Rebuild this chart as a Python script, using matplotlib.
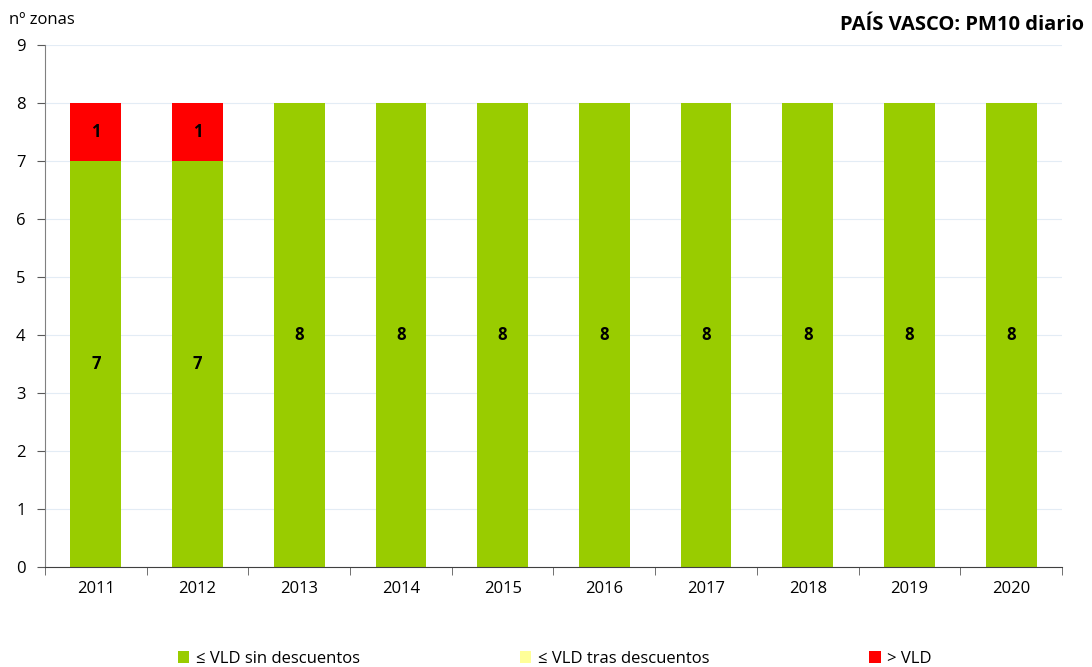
import matplotlib.pyplot as plt
import numpy as np

plt.rcParams['font.family'] = ['Open Sans', 'DejaVu Sans']

years = ["2011", "2012", "2013", "2014", "2015", "2016", "2017", "2018", "2019", "2020"]
sin_descuentos = [7, 7, 8, 8, 8, 8, 8, 8, 8, 8]
tras_descuentos = [0, 0, 0, 0, 0, 0, 0, 0, 0, 0]
supera_vld = [1, 1, 0, 0, 0, 0, 0, 0, 0, 0]

series = [
    ("≤ VLD sin descuentos", sin_descuentos, "#99CC00"),
    ("≤ VLD tras descuentos", tras_descuentos, "#FFFF99"),
    ("> VLD", supera_vld, "#FF0000"),
]

fig = plt.figure(figsize=(10.92, 6.67), dpi=100)
ax = fig.add_axes([0.0412, 0.150, 0.9313, 0.7825])

x = np.arange(len(years))
bottom = np.zeros(len(years))
handles = []
for name, vals, color in series:
    vals = np.array(vals, dtype=float)
    b = ax.bar(x, vals, 0.5, bottom=bottom, color=color, label=name, zorder=2)
    handles.append(b)
    for xi, v, bt in zip(x, vals, bottom):
        if v > 0:
            ax.text(xi, bt + v / 2, f"{int(v)}", ha="center", va="center",
                    fontsize=12, fontweight="bold", color="black", zorder=3)
    bottom += vals

ax.set_xlim(-0.5, len(years) - 0.5)
ax.set_ylim(0, 9)
ax.set_yticks(range(0, 10))
ax.set_xticks(x)
ax.set_xticklabels(years)
ax.set_xticks(np.arange(-0.5, len(years), 1), minor=True)
ax.tick_params(axis="x", which="major", length=0, labelsize=12, pad=10)
ax.tick_params(axis="x", which="minor", length=6, color="#595959")
ax.tick_params(axis="y", length=6, color="#595959", labelsize=12, pad=8)
ax.grid(axis="y", color="#E3ECF5", linewidth=0.8, zorder=0)
for s in ["top", "right"]:
    ax.spines[s].set_visible(False)
ax.spines["left"].set_color("#808080")
ax.spines["bottom"].set_color("#404040")

fig.text(0.008, 0.970, "nº zonas", fontsize=12, ha="left", va="center")
fig.text(0.993, 0.963, "PAÍS VASCO: PM10 diario", fontsize=14.5, fontweight="bold",
         ha="right", va="center")

fig.legend(handles=handles, loc="lower left", ncol=3, mode="expand",
           bbox_to_anchor=(0.149, -0.022, 0.718, 0.05), frameon=False,
           fontsize=12, handlelength=0.7, handleheight=0.7, handletextpad=0.4)

fig.savefig("out.png", dpi=100)
